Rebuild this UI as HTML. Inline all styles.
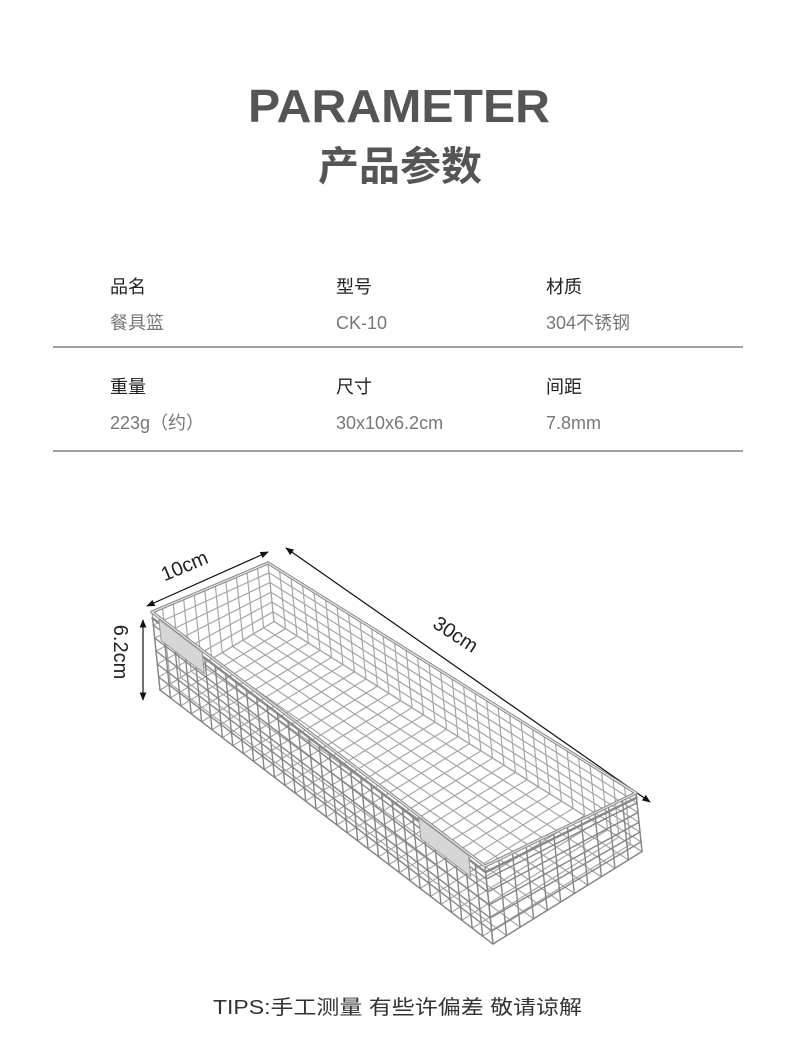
<!DOCTYPE html>
<html><head><meta charset="utf-8">
<style>
html,body{margin:0;padding:0;background:#fff;}
body{width:790px;height:1041px;overflow:hidden;}
svg{display:block;}
</style></head>
<body>
<svg id="s" width="790" height="1041" viewBox="0 0 790 1041" xmlns="http://www.w3.org/2000/svg">
<defs>
<marker id="ar" viewBox="0 0 10 10" refX="9" refY="5" markerWidth="7" markerHeight="7" orient="auto-start-reverse">
<path d="M0,1 L10,5 L0,9 z" fill="#111"/>
</marker>
</defs>
<g font-family="'Liberation Sans','Noto Sans CJK SC',sans-serif">
<text x="248" y="122" font-size="46" font-weight="bold" fill="#555" textLength="302" lengthAdjust="spacingAndGlyphs">PARAMETER</text>
<text x="318" y="180" font-size="40" font-weight="bold" fill="#555" textLength="164" lengthAdjust="spacingAndGlyphs">产品参数</text>

<g font-size="18" fill="#222">
<text x="110" y="293">品名</text><text x="336" y="293">型号</text><text x="546" y="293">材质</text>
<text x="110" y="393">重量</text><text x="336" y="393">尺寸</text><text x="546" y="393">间距</text>
</g>
<g font-size="18" fill="#777">
<text x="110" y="329">餐具篮</text><text x="336" y="329">CK-10</text><text x="546" y="329">304不锈钢</text>
<text x="110" y="429">223g（约）</text><text x="336" y="429">30x10x6.2cm</text><text x="546" y="429">7.8mm</text>
</g>
<line x1="53" y1="347" x2="743" y2="347" stroke="#666" stroke-width="1.2"/>
<line x1="53" y1="451" x2="743" y2="451" stroke="#666" stroke-width="1.2"/>

<text x="213" y="1014" font-size="20" fill="#333" textLength="369" lengthAdjust="spacingAndGlyphs">TIPS:手工测量 有些许偏差 敬请谅解</text>

<line x1="147" y1="606" x2="268" y2="552" stroke="#111" stroke-width="1.2" marker-start="url(#ar)" marker-end="url(#ar)"/>
<text x="187" y="572" font-size="20" fill="#222" text-anchor="middle" transform="rotate(-23 187 572)">10cm</text>
<line x1="286" y1="548" x2="650" y2="802" stroke="#111" stroke-width="1.2" marker-start="url(#ar)" marker-end="url(#ar)"/>
<text x="452" y="640" font-size="20" fill="#222" text-anchor="middle" transform="rotate(33 452 640)">30cm</text>
<line x1="143" y1="620" x2="143" y2="700" stroke="#111" stroke-width="1.2" marker-start="url(#ar)" marker-end="url(#ar)"/>
<text x="114" y="652" font-size="20" fill="#222" text-anchor="middle" transform="rotate(90 114 652)">6.2cm</text>
</g>
<g id="bk" fill="none" stroke-linecap="round"></g>
</svg>
<script>
(function(){
var g=document.getElementById('bk');
var A=[152,612],B=[268,563],C=[636,793],D=[485,866];
function top(l,w){
 var x=(1-l)*((1-w)*A[0]+w*B[0])+l*((1-w)*D[0]+w*C[0]);
 var y=(1-l)*((1-w)*A[1]+w*B[1])+l*((1-w)*D[1]+w*C[1]);
 return [x,y];}
function P(l,w,h){var t=top(l,w);var s=1-0.25*w;return [t[0]+h*8*s,t[1]+h*78*s];}
var out='';
function ln(p,q,c,sw){out+='<line x1="'+p[0].toFixed(1)+'" y1="'+p[1].toFixed(1)+'" x2="'+q[0].toFixed(1)+'" y2="'+q[1].toFixed(1)+'" stroke="'+c+'" stroke-width="'+sw+'"/>';}
var NL=32,NW=11,NH=6,i,k;
var cb='#a6a6a6',cf='#858585';
for(i=0;i<=NL;i++){ln(P(i/NL,1,0),P(i/NL,1,1),cb,1.2);}
for(k=1;k<=NH;k++){ln(P(0,1,k/NH),P(1,1,k/NH),cb,1.2);}
for(i=0;i<=NL;i++){ln(P(i/NL,0,1),P(i/NL,1,1),cb,1.2);}
for(k=0;k<=NW;k++){ln(P(0,k/NW,1),P(1,k/NW,1),cb,1.2);}
for(k=0;k<=NW;k++){ln(P(0,k/NW,0),P(0,k/NW,1),cb,1.2);}
for(k=1;k<=NH;k++){ln(P(0,0,k/NH),P(0,1,k/NH),cb,1.2);}
for(k=0;k<=NW;k++){ln(P(1,k/NW,0),P(1,k/NW,1),cf,1.4);}
for(k=1;k<=NH;k++){ln(P(1,0,k/NH),P(1,1,k/NH),cf,1.4);}
for(i=0;i<=NL;i++){ln(P(i/NL,0,0.08),P(i/NL,0,1),cf,1.4);}
for(k=1;k<=NH;k++){ln(P(0,0,k/NH),P(1,0,k/NH),cf,1.4);}
var r=[P(0,0,0),P(0,1,0),P(1,1,0),P(1,0,0)];
var rs=r.map(function(p){return p[0].toFixed(1)+','+p[1].toFixed(1)}).join(' ');
out+='<polygon points="'+rs+'" stroke="#888" stroke-width="3.2" stroke-linejoin="round"/>';
out+='<polygon points="'+rs+'" stroke="#e8e8e8" stroke-width="1.2" stroke-linejoin="round"/>';
var r2=[P(0,0,0.08),P(1,0,0.08),P(1,1,0.08)];
out+='<polyline points="'+r2.map(function(p){return p[0].toFixed(1)+','+p[1].toFixed(1)}).join(' ')+'" stroke="#888" stroke-width="2.4"/>';
function handle(l0,l1){var a=P(l0,0,0.03),b=P(l1,0,0.03),c=P(l1,0,0.3),d=P(l0,0,0.3);
 out+='<polygon points="'+[a,b,c,d].map(function(p){return p[0].toFixed(1)+','+p[1].toFixed(1)}).join(' ')+'" fill="#d6d6d6" stroke="#999" stroke-width="1"/>';}
handle(0.02,0.15);handle(0.8,0.95);
g.innerHTML=out;
})();
</script>
</body></html>
